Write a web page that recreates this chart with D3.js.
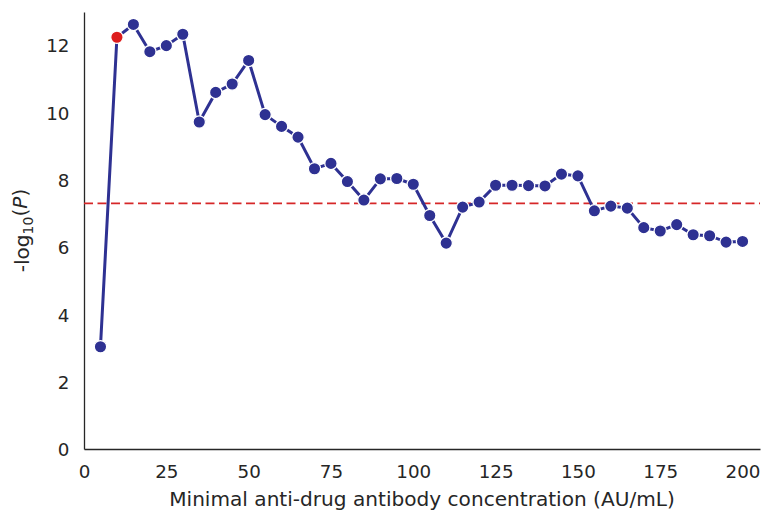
<!DOCTYPE html>
<html>
<head>
<meta charset="utf-8">
<script src="https://cdn.jsdelivr.net/npm/d3@7"></script>
<style>
  body { margin: 0; background: #fff; }
  text { font-family: "DejaVu Sans", sans-serif; fill: #262626; }
</style>
</head>
<body>
<div id="chart"></div>
<script>
// concentration thresholds (AU/mL) and -log10(P) at each
var concentrations = [5, 10, 15, 20, 25, 30, 35, 40, 45, 50, 55, 60, 65, 70, 75, 80, 85, 90, 95, 100,
  105, 110, 115, 120, 125, 130, 135, 140, 145, 150, 155, 160, 165, 170, 175, 180, 185, 190, 195, 200]
var logP = [3.04, 12.24, 12.62, 11.81, 11.99, 12.33, 9.72, 10.60, 10.85, 11.55, 9.94, 9.59, 9.27, 8.33, 8.49, 7.95, 7.40, 8.03, 8.04, 7.87,
  6.94, 6.12, 7.19, 7.34, 7.84, 7.84, 7.83, 7.82, 8.17, 8.12, 7.08, 7.22, 7.16, 6.58, 6.48, 6.67, 6.37, 6.34, 6.15, 6.17]
var bestConcentration = 10
var threshold = 7.3
var xTicks = [0, 25, 50, 75, 100, 125, 150, 175, 200]
var yTicks = [0, 2, 4, 6, 8, 10, 12]

var margin = { top: 12, right: 4, bottom: 67, left: 84 },
  width = 764 - margin.left - margin.right,
  height = 516 - margin.top - margin.bottom

var svg = d3.select("#chart")
  .append("svg")
  .attr("width", 764)
  .attr("height", 516)
  .append("g")
  .attr("transform", "translate(" + margin.left + "," + margin.top + ")")

var x = d3.scaleLinear()
  .domain([0, 205.3])
  .range([0, width])

var y = d3.scaleLinear()
  .domain([0, 12.99])
  .range([height, 0])

// axes: spines only, no tick marks
var xAxis = svg.append("g")
  .attr("transform", "translate(0," + height + ")")
  .call(d3.axisBottom(x).tickValues(xTicks).tickSize(0).tickPadding(16).tickSizeOuter(0))
var yAxis = svg.append("g")
  .call(d3.axisLeft(y).tickValues(yTicks).tickSize(0).tickPadding(14.5).tickSizeOuter(0))

svg.selectAll(".domain").attr("stroke", "#262626").attr("stroke-width", 1.3)
svg.selectAll(".tick text").style("font-size", "18.3px").attr("fill", "#262626")
yAxis.selectAll(".tick text").attr("dy", "0.36em")

// significance threshold
svg.append("line")
  .attr("x1", 0)
  .attr("x2", width)
  .attr("y1", y(threshold))
  .attr("y2", y(threshold))
  .attr("stroke", "#d62728")
  .attr("stroke-width", 1.9)
  .attr("stroke-dasharray", "9,4.5")

var data = concentrations.map((c, i) => ({ c: c, p: logP[i] }))

var line = d3.line()
  .x(d => x(d.c))
  .y(d => y(d.p))

svg.append("path")
  .datum(data)
  .attr("d", line)
  .attr("fill", "none")
  .attr("stroke", "#2e3192")
  .attr("stroke-width", 3)

svg.append("g")
  .selectAll("circle")
  .data(data)
  .enter()
  .append("circle")
  .attr("cx", d => x(d.c))
  .attr("cy", d => y(d.p))
  .attr("r", 6.2)
  .attr("fill", d => d.c === bestConcentration ? "#dd1c1c" : "#2e3192")
  .attr("stroke", "#fff")
  .attr("stroke-width", 1.3)

// axis labels
svg.append("text")
  .attr("x", width / 2)
  .attr("y", height + 57)
  .attr("text-anchor", "middle")
  .style("font-size", "20.1px")
  .text("Minimal anti-drug antibody concentration (AU/mL)")

var yLabel = svg.append("text")
  .attr("transform", "translate(" + (-55) + "," + (height / 2) + ") rotate(-90)")
  .attr("text-anchor", "middle")
  .style("font-size", "20.1px")
yLabel.append("tspan").text("-log")
yLabel.append("tspan").attr("dy", "0.25em").style("font-size", "14px").text("10")
yLabel.append("tspan").attr("dy", "-0.25em").text("(")
yLabel.append("tspan").style("font-style", "italic").text("P")
yLabel.append("tspan").text(")")
</script>
</body>
</html>
